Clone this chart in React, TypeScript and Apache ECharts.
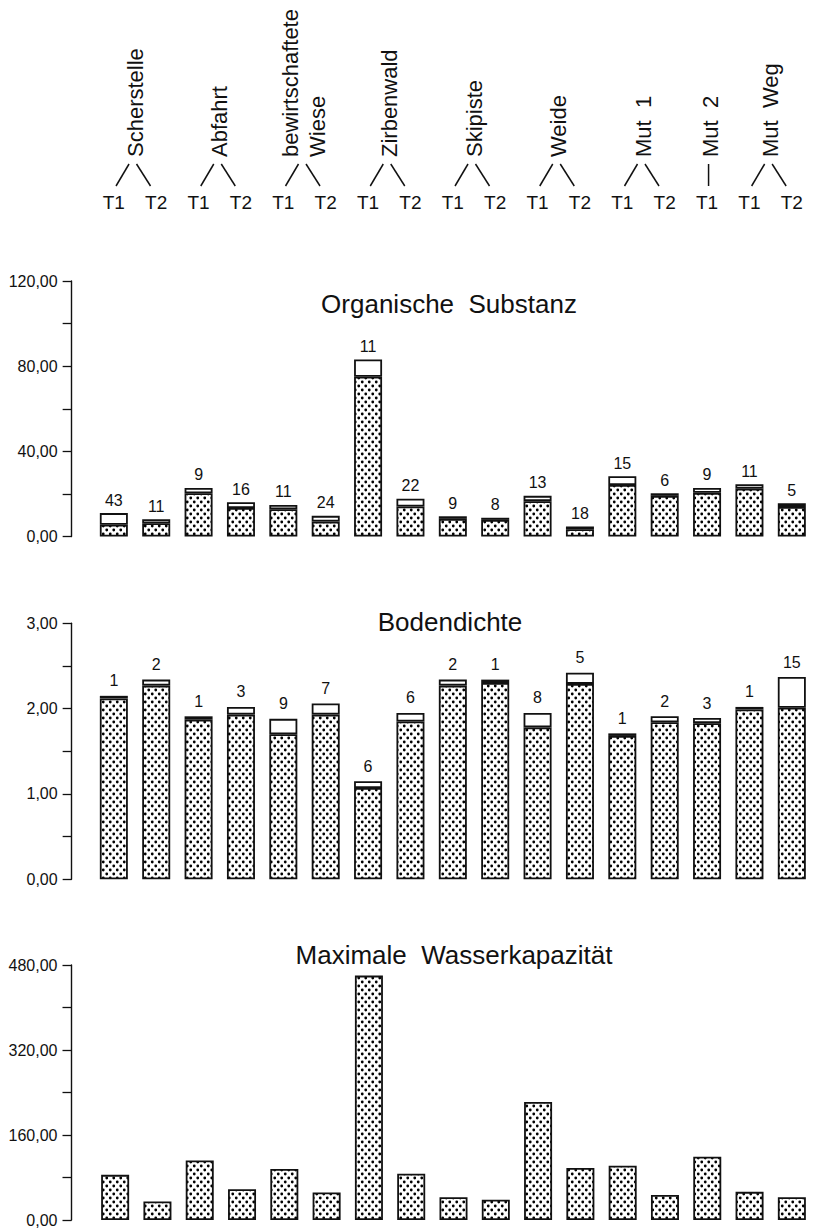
import React, { useEffect, useRef } from 'react';
import * as echarts from 'echarts';

// ---------- data ----------
const categories = [
  'Scherstelle T1', 'Scherstelle T2',
  'Abfahrt T1', 'Abfahrt T2',
  'bewirtschaftete Wiese T1', 'bewirtschaftete Wiese T2',
  'Zirbenwald T1', 'Zirbenwald T2',
  'Skipiste T1', 'Skipiste T2',
  'Weide T1', 'Weide T2',
  'Mut 1 T1', 'Mut 1 T2',
  'Mut 2 T1',
  'Mut Weg T1', 'Mut Weg T2',
];
const siteNames = [
  ['Scherstelle'], ['Abfahrt'], ['bewirtschaftete', 'Wiese'], ['Zirbenwald'],
  ['Skipiste'], ['Weide'], ['Mut  1'], ['Mut  2'], ['Mut  Weg'],
];
const siteBarCounts = [2, 2, 2, 2, 2, 2, 2, 1, 2];
const timeLabels = ['T1', 'T2', 'T1', 'T2', 'T1', 'T2', 'T1', 'T2', 'T1', 'T2', 'T1', 'T2', 'T1', 'T2', 'T1', 'T1', 'T2'];

// Organische Substanz
const organicMean = [5.5, 6.2, 20.3, 13.4, 12.8, 7.0, 75.0, 14.1, 8.3, 7.8, 16.6, 3.4, 24.2, 19.1, 20.5, 22.4, 13.9];
const organicSpread = [5.5, 1.9, 2.5, 2.7, 2.0, 2.7, 8.1, 3.6, 1.2, 1.0, 2.5, 1.3, 4.1, 1.2, 2.3, 2.1, 1.7];
const organicN = [43, 11, 9, 16, 11, 24, 11, 22, 9, 8, 13, 18, 15, 6, 9, 11, 5];
const organicLabelTicks = [0, 40, 80, 120];

// Bodendichte
const densityMean = [2.12, 2.27, 1.87, 1.93, 1.70, 1.93, 1.07, 1.85, 2.27, 2.30, 1.78, 2.29, 1.68, 1.84, 1.83, 1.99, 2.01];
const densitySpread = [0.03, 0.07, 0.04, 0.09, 0.18, 0.13, 0.08, 0.10, 0.07, 0.04, 0.17, 0.13, 0.03, 0.07, 0.06, 0.03, 0.36];
const densityN = [1, 2, 1, 3, 9, 7, 6, 6, 2, 1, 8, 5, 1, 2, 3, 1, 15];
const densityLabelTicks = [0, 1, 2, 3];

// Maximale Wasserkapazität
const waterCapacity = [85, 35, 112, 58, 96, 52, 460, 87, 43, 38, 222, 98, 102, 47, 119, 53, 43];
const waterLabelTicks = [0, 160, 320, 480];

const panelTitles = ['Organische  Substanz', 'Bodendichte', 'Maximale  Wasserkapazität'];

// ---------- styles ----------
const FONT = '"Liberation Sans", Arial, Helvetica, sans-serif';
const INK = '#111';

function makeDots() {
  const c = document.createElement('canvas');
  c.width = 7;
  c.height = 8;
  const ctx = c.getContext('2d')!;
  ctx.fillStyle = '#fff';
  ctx.fillRect(0, 0, 7, 8);
  ctx.fillStyle = '#000';
  ctx.beginPath();
  ctx.arc(1.75, 2, 1.4, 0, Math.PI * 2);
  ctx.fill();
  ctx.beginPath();
  ctx.arc(5.25, 6, 1.4, 0, Math.PI * 2);
  ctx.fill();
  return c;
}

const fmt = (v: number) => v.toFixed(2).replace('.', ',');

function yAxisFor(gridIndex: number, max: number, step: number, labelTicks: number[]) {
  return {
    type: 'value',
    gridIndex,
    min: 0,
    max,
    interval: step,
    offset: 21,
    axisLine: { show: true, lineStyle: { color: INK, width: 1.4 } },
    axisTick: { show: true, length: 9, lineStyle: { color: INK, width: 1.3 } },
    axisLabel: {
      margin: 14,
      fontSize: 16,
      fontFamily: FONT,
      color: INK,
      formatter: (v: number) => (labelTicks.some((t) => Math.abs(t - v) < 1e-6) ? fmt(v) : ''),
    },
    splitLine: { show: false },
  };
}

function xAxisFor(gridIndex: number) {
  return {
    type: 'category',
    gridIndex,
    data: categories,
    axisLine: { show: false },
    axisTick: { show: false },
    axisLabel: { show: false },
  };
}

export default function App() {
  const ref = useRef<HTMLDivElement>(null);

  useEffect(() => {
    if (!ref.current) return;
    const chart = echarts.init(ref.current, null, { renderer: 'svg' });
    const dots = makeDots();
    const dotFill: any = { image: dots, repeat: 'repeat', imageWidth: 7, imageHeight: 8 };
    const border = { borderColor: INK, borderWidth: 1.8 };
    const labelBase = { show: true, position: 'top', distance: 5, fontSize: 16, fontFamily: FONT, color: INK };

    chart.setOption({
      animation: false,
      backgroundColor: '#fff',
      grid: [
        { left: 92.65, width: 725.9, top: 281, height: 255.5 },
        { left: 92.65, width: 725.9, top: 623.3, height: 256 },
        { left: 94, width: 725.9, top: 965, height: 255.7 },
      ],
      xAxis: [xAxisFor(0), xAxisFor(1), xAxisFor(2)],
      yAxis: [
        yAxisFor(0, 120, 20, organicLabelTicks),
        yAxisFor(1, 3, 0.5, densityLabelTicks),
        { ...yAxisFor(2, 480, 80, waterLabelTicks), offset: 22.5 },
      ],
      series: [
        {
          type: 'bar', xAxisIndex: 0, yAxisIndex: 0, stack: 'o', barWidth: 28,
          data: organicMean, itemStyle: { color: dotFill, ...border },
        },
        {
          type: 'bar', xAxisIndex: 0, yAxisIndex: 0, stack: 'o', barWidth: 28,
          data: organicSpread, itemStyle: { color: '#fff', ...border },
          label: { ...labelBase, formatter: (p: any) => String(organicN[p.dataIndex]) },
        },
        {
          type: 'bar', xAxisIndex: 1, yAxisIndex: 1, stack: 'd', barWidth: 28,
          data: densityMean, itemStyle: { color: dotFill, ...border },
        },
        {
          type: 'bar', xAxisIndex: 1, yAxisIndex: 1, stack: 'd', barWidth: 28,
          data: densitySpread, itemStyle: { color: '#fff', ...border },
          label: { ...labelBase, distance: 7, formatter: (p: any) => String(densityN[p.dataIndex]) },
        },
        {
          type: 'bar', xAxisIndex: 2, yAxisIndex: 2, barWidth: 28,
          data: waterCapacity, itemStyle: { color: dotFill, ...border },
        },
      ],
    });

    // header built from the category axis positions
    const xs = categories.map((c) => chart.convertToPixel({ xAxisIndex: 0 }, c) as number);
    const graphics: any[] = [];
    let idx = 0;
    siteNames.forEach((lines, s) => {
      const n = siteBarCounts[s];
      const members = xs.slice(idx, idx + n);
      idx += n;
      const mid = members.reduce((a, b) => a + b, 0) / members.length;
      const textX = n === 1 ? mid + 3 : mid;
      const offsets = lines.length === 2 ? [-14, 13] : [0];
      lines.forEach((t, li) => {
        graphics.push({
          type: 'text',
          x: textX + offsets[li],
          y: 157,
          rotation: Math.PI / 2,
          style: { text: t, fontSize: 22, fontFamily: FONT, fill: INK, textAlign: 'left', textVerticalAlign: 'middle' },
        });
      });
      const ls = { stroke: INK, lineWidth: 1.5 };
      if (n === 1) {
        graphics.push({ type: 'line', shape: { x1: mid + 1.5, y1: 164, x2: mid + 1.5, y2: 186 }, style: ls });
      } else {
        graphics.push({ type: 'line', shape: { x1: mid - 19, y1: 186, x2: mid - 6, y2: 164 }, style: ls });
        graphics.push({ type: 'line', shape: { x1: mid + 1.5, y1: 164, x2: mid + 15.5, y2: 186 }, style: ls });
      }
    });
    timeLabels.forEach((t, i) => {
      graphics.push({
        type: 'text',
        x: xs[i],
        y: 202,
        style: { text: t, fontSize: 19, fontFamily: FONT, fill: INK, textAlign: 'center', textVerticalAlign: 'middle' },
      });
    });
    const titleXs = [449, 450, 454];
    const titleYs = [304, 622, 955];
    panelTitles.forEach((t, i) => {
      graphics.push({
        type: 'text',
        x: titleXs[i],
        y: titleYs[i],
        style: { text: t, fontSize: 26, fontFamily: FONT, fill: INK, textAlign: 'center', textVerticalAlign: 'middle' },
      });
    });
    chart.setOption({ graphic: graphics });

    return () => chart.dispose();
  }, []);

  return (
    <div
      ref={ref}
      style={{ position: 'fixed', left: 0, top: 0, width: 813, height: 1228, background: '#fff' }}
    />
  );
}
